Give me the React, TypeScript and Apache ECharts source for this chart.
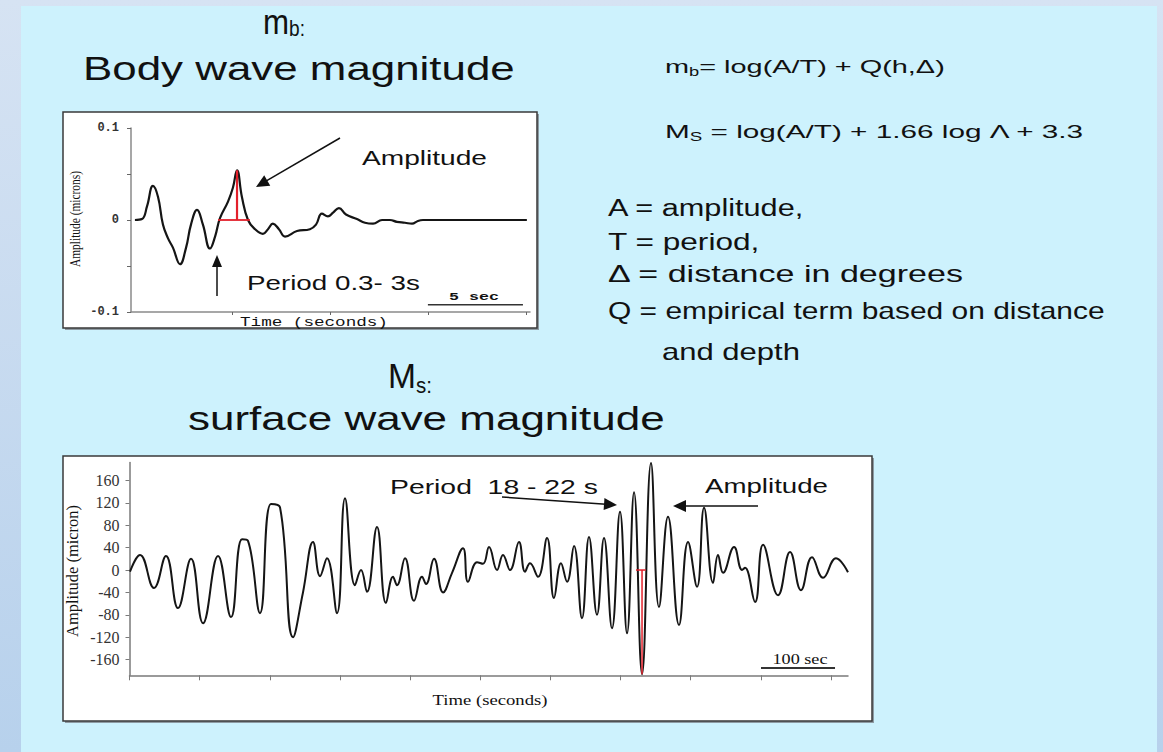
import React, { useEffect, useRef } from "react";
import * as echarts from "echarts";

// ---------- Body-wave (mb) trace: time in seconds, amplitude in microns ----------
const bodyTime = [0.20, 0.56, 0.82, 1.12, 1.38, 1.63, 1.89, 2.14, 2.50, 2.81, 3.06, 3.37, 3.67, 4.03, 4.29, 4.54, 4.95, 5.20, 5.41, 5.66, 5.97, 6.33, 6.73, 6.99, 7.24, 7.55, 7.86, 8.47, 9.13, 9.44, 9.74, 10.05, 10.31, 10.61, 10.97, 11.53, 11.94, 12.35, 12.81, 13.21, 13.57, 13.98, 14.34, 14.64, 14.90, 20.20];
const bodyAmp = [0, 0.001, 0.015, 0.037, 0.025, -0.005, -0.02, -0.03, -0.048, -0.03, -0.005, 0.011, -0.005, -0.031, -0.018, 0.002, 0.02, 0.035, 0.054, 0.025, 0, -0.01, -0.015, -0.01, -0.004, -0.01, -0.018, -0.012, -0.01, -0.005, 0.007, 0.004, 0.008, 0.013, 0.006, 0.001, -0.003, -0.004, 0, 0, -0.002, -0.003, -0.004, -0.001, 0, 0];
const bodyPeakTime = [5.41, 5.41];
const bodyPeakAmp = [0, 0.054];
const bodyBaseTime = [4.44, 6.07];
const bodyBaseAmp = [0, 0];
const bodyScaleTime = [15.15, 20.0];
const bodyScaleAmp = [-0.092, -0.092];
const bodyXTicks = [5.15, 10.15, 15.15, 20.15];

// ---------- Surface-wave (Ms) trace ----------
const surfTime = [0.7, 15, 34.9, 52.0, 69.1, 87.7, 104.8, 126.2, 144.7, 160.4, 168.9, 186.0, 201.7, 214.5, 233.1, 247.3, 261.6, 271.6, 281.5, 295.8, 307.2, 321.4, 330.0, 338.5, 352.8, 365.6, 375.6, 381.3, 392.7, 405.6, 417.0, 422.7, 434.1, 447.0, 459.8, 475.4, 482.5, 495.4, 503.9, 512.5, 523.9, 532.4, 542.4, 555.2, 563.8, 570.9, 582.3, 595.2, 605.1, 615.1, 623.7, 633.6, 645.0, 655.0, 666.4, 676.4, 687.8, 699.2, 709.2, 719.2, 730.6, 743.4, 754.8, 767.6, 783.3, 796.2, 809.0, 819.0, 831.8, 838.9, 846.1, 861.8, 873.2, 877.4, 891.7, 903.1, 924.5, 941.6, 957.2, 972.9, 988.6, 1007.1, 1024.2];
const surfAmp = [-3, 27, -32, 25, -68, 20, -95, 25, -84, 55, 52, -77, 118, 112, -120, -40, 50, -11, 21, -77, 128, -27, 0, -39, 77, -59, -12, -27, 21, -55, -12, -25, 20, -40, -5, 39, -21, 14, 11, 41, 0, 27, 0, 50, -3, 12, -12, 57, -50, 12, -21, 43, -86, 59, -80, 57, -104, 104, -113, 139, -186, 191, -66, 95, -98, 50, -30, 111, -23, 27, -5, 41, 0, 4, -57, 45, -45, 32, -36, 23, -14, 21, -4];
const surfPeakTime = [730.6, 730.6];
const surfPeakAmp = [0, -186];
const surfBaseTime = [722, 736];
const surfBaseAmp = [0, 0];
const surfScaleTime = [900.2, 1005.7];
const surfScaleAmp = [-175, -175];
const surfXTicks = [0, 100, 200, 300, 400, 500, 600, 700, 800, 900, 1000];
const surfYTicks = [-160, -120, -80, -40, 0, 40, 80, 120, 160];

// ---------- Texts ----------
const TXT_BODY_TITLE = "Body wave magnitude";
const TXT_SURF_TITLE = "surface wave magnitude";
const TXT_F1 = "= log(A/T) + Q(h,\u0394)";
const TXT_F2 = " = log(A/T) + 1.66 log \u039b + 3.3";
const TXT_DEF = ["A = amplitude,", "T = period,", "\u0394 = distance in degrees", "Q = empirical term based on distance", "and depth"];
const TXT_AMPL = "Amplitude";
const TXT_PERIOD_BODY = "Period 0.3- 3s";
const TXT_PERIOD_SURF = "Period  18 - 22 s";

const SANS = '"Liberation Sans", Arial, sans-serif';
const SERIF = '"Liberation Serif", "Times New Roman", serif';
const MONO = '"Liberation Mono", "Courier New", monospace';

let ctx: CanvasRenderingContext2D | null = null;
function measure(t: string, size: number, family: string) {
  if (!ctx) ctx = document.createElement("canvas").getContext("2d");
  ctx!.font = `${size}px ${family}`;
  return ctx!.measureText(t).width;
}

type Part = [string, boolean];
function label(
  x: number, y: number, parts: Part[], size: number, targetW: number,
  opt: { family?: string; align?: string; rotation?: number; fill?: string; weight?: string; lh?: number } = {}
) {
  const family = opt.family || SANS;
  const fill = opt.fill || "#111";
  const sub = Math.round(size * 0.62);
  let natural = 0;
  parts.forEach(([t, s]) => (natural += measure(t, s ? sub : size, family)));
  return {
    type: "text",
    x, y,
    rotation: opt.rotation || 0,
    scaleX: targetW / natural,
    z: 30,
    style: {
      text: parts.map(([t, s]) => `{${s ? "s" : "n"}|${t}}`).join(""),
      fill, fontFamily: family, fontSize: size, fontWeight: opt.weight || "normal",
      align: opt.align || "left", verticalAlign: "middle",
      rich: {
        n: { fontSize: size, fontFamily: family, fill, fontWeight: opt.weight || "normal", lineHeight: Math.round(size * (opt.lh || 1.2)) },
        s: { fontSize: sub, fontFamily: family, fill, lineHeight: sub, verticalAlign: "bottom" },
      },
    },
  };
}

function arrow(x1: number, y1: number, x2: number, y2: number, head = 13, half = 6) {
  const dx = x2 - x1, dy = y2 - y1;
  const len = Math.hypot(dx, dy);
  const ux = dx / len, uy = dy / len;
  const bx = x2 - ux * head, by = y2 - uy * head;
  const px = -uy, py = ux;
  return [
    { type: "line", z: 30, shape: { x1, y1, x2: bx + ux * 2, y2: by + uy * 2 }, style: { stroke: "#111", lineWidth: 1.5 } },
    { type: "polygon", z: 30, shape: { points: [[x2, y2], [bx + px * half, by + py * half], [bx - px * half, by - py * half]] }, style: { fill: "#111" } },
  ];
}

const zip = (a: number[], b: number[]) => a.map((v, i) => [v, b[i]]);

function buildOption() {
  const graphics: any[] = [
    {
      type: "rect", z: -20, shape: { x: 0, y: 0, width: 1163, height: 752 },
      style: { fill: new echarts.graphic.LinearGradient(0, 0, 0, 1, [{ offset: 0, color: "#d6e3f3" }, { offset: 1, color: "#b7d1ec" }]) },
    },
    { type: "rect", z: -19, shape: { x: 21, y: 6, width: 1136, height: 746 }, style: { fill: "#cdf2fd" } },
    // chart boxes with shadow
    { type: "rect", z: -18, shape: { x: 65, y: 114, width: 474, height: 216 }, style: { fill: "#8e9ba3" } },
    { type: "rect", z: -17, shape: { x: 63, y: 112, width: 474, height: 216 }, style: { fill: "#ffffff", stroke: "#3a3a3a", lineWidth: 1.5 } },
    { type: "rect", z: -18, shape: { x: 65, y: 458, width: 809, height: 265 }, style: { fill: "#8e9ba3" } },
    { type: "rect", z: -17, shape: { x: 63, y: 456, width: 809, height: 265 }, style: { fill: "#ffffff", stroke: "#3a3a3a", lineWidth: 1.5 } },

    // titles
    label(263, 21, [["m", false], ["b", true], [":", true]], 36, 42, { lh: 1.0 }),
    label(83, 68, [[TXT_BODY_TITLE, false]], 34, 432),
    label(388, 375, [["M", false], ["s", true], [":", true]], 36, 44),
    label(188, 418, [[TXT_SURF_TITLE, false]], 34, 477),

    // formulas
    label(665, 66, [["m", false], ["b", true], [TXT_F1, false]], 19, 280),
    label(665, 131, [["M", false], ["S", true], [TXT_F2, false]], 19, 420),
    label(608, 208, [[TXT_DEF[0], false]], 23, 197),
    label(608, 242, [[TXT_DEF[1], false]], 23, 152),
    label(608, 274, [[TXT_DEF[2], false]], 23, 357),
    label(608, 311, [[TXT_DEF[3], false]], 23, 497),
    label(662, 352, [[TXT_DEF[4], false]], 23, 138),

    // body chart annotations
    label(362, 158, [[TXT_AMPL, false]], 20, 125),
    label(247, 283, [[TXT_PERIOD_BODY, false]], 20, 173),
    ...arrow(340, 138, 256, 187),
    ...arrow(217, 296, 217, 255, 12, 5),
    label(474, 297, [["5 sec", false]], 11, 50, { family: MONO, align: "center", weight: "bold" }),
    label(314, 323, [["Time (seconds)", false]], 13, 148, { family: MONO, align: "center" }),
    label(76, 219, [["Amplitude (microns)", false]], 14, 96, { family: SERIF, align: "center", rotation: Math.PI / 2 }),

    // surface chart annotations
    label(390, 487, [[TXT_PERIOD_SURF, false]], 20, 208),
    label(705, 486, [[TXT_AMPL, false]], 20, 123),
    ...arrow(502, 497, 617, 505),
    ...arrow(758, 506, 673, 506),
    label(800, 660, [["100 sec", false]], 14, 55, { family: SERIF, align: "center" }),
    label(490, 700, [["Time (seconds)", false]], 15, 115, { family: SERIF, align: "center" }),
    label(73, 571, [["Amplitude (micron)", false]], 16, 132, { family: SERIF, align: "center", rotation: Math.PI / 2 }),
  ];

  const axisGray = "#8a8a8a";
  return {
    animation: false,
    graphic: { elements: graphics },
    grid: [
      { left: 131, top: 128, width: 399, height: 184 },
      { left: 129.5, top: 462.5, width: 718.5, height: 212.8 },
    ],
    xAxis: [
      {
        gridIndex: 0, type: "value", min: 0, max: 20.36,
        axisLine: { onZero: false, lineStyle: { color: axisGray, width: 1.5 } },
        axisTick: { show: true, customValues: bodyXTicks, length: 3, lineStyle: { color: "#666" } },
        axisLabel: { show: false }, splitLine: { show: false },
      },
      {
        gridIndex: 1, type: "value", min: 0, max: 1024.2,
        axisLine: { onZero: false, lineStyle: { color: "#7a7a7a", width: 1.5 } },
        axisTick: { show: true, customValues: surfXTicks, length: 5, lineStyle: { color: "#7a7a7a" } },
        axisLabel: { show: false }, splitLine: { show: false },
      },
    ],
    yAxis: [
      {
        gridIndex: 0, type: "value", min: -0.1, max: 0.1, interval: 0.05,
        axisLine: { show: true, onZero: false, lineStyle: { color: axisGray, width: 1.5 } },
        axisTick: { show: true, length: 4, lineStyle: { color: "#666" } },
        axisLabel: {
          margin: 12, fontFamily: MONO, fontSize: 12, fontWeight: "bold", color: "#333",
          formatter: (v: number) => (Math.abs(v) < 1e-9 ? "0" : Math.abs(v - 0.1) < 1e-9 ? "0.1" : Math.abs(v + 0.1) < 1e-9 ? "-0.1" : ""),
        },
        splitLine: { show: false },
      },
      {
        gridIndex: 1, type: "value", min: -188, max: 192,
        axisLine: { show: true, onZero: false, lineStyle: { color: "#7a7a7a", width: 1.5 } },
        axisTick: { show: true, customValues: surfYTicks, length: 4, lineStyle: { color: "#7a7a7a" } },
        axisLabel: { customValues: surfYTicks, margin: 10, fontFamily: SERIF, fontSize: 16, color: "#333" },
        splitLine: { show: false },
      },
    ],
    series: [
      {
        type: "line", xAxisIndex: 0, yAxisIndex: 0, data: zip(bodyTime, bodyAmp), showSymbol: false, smooth: 0.45,
        lineStyle: { color: "#151515", width: 2.2 }, z: 3, clip: false,
      },
      {
        type: "line", xAxisIndex: 0, yAxisIndex: 0, data: zip(bodyPeakTime, bodyPeakAmp), showSymbol: false,
        lineStyle: { color: "#e3202b", width: 2.2 }, z: 4,
      },
      {
        type: "line", xAxisIndex: 0, yAxisIndex: 0, data: zip(bodyBaseTime, bodyBaseAmp), showSymbol: false,
        lineStyle: { color: "#e3202b", width: 1.8 }, z: 4,
      },
      {
        type: "line", xAxisIndex: 0, yAxisIndex: 0, data: zip(bodyScaleTime, bodyScaleAmp), showSymbol: false,
        lineStyle: { color: "#333", width: 1.5 }, z: 4,
      },
      {
        type: "line", xAxisIndex: 1, yAxisIndex: 1, data: zip(surfTime, surfAmp), showSymbol: false, smooth: 0.45,
        lineStyle: { color: "#151515", width: 2 }, z: 3, clip: false,
      },
      {
        type: "line", xAxisIndex: 1, yAxisIndex: 1, data: zip(surfPeakTime, surfPeakAmp), showSymbol: false,
        lineStyle: { color: "#e3202b", width: 1.5 }, z: 4, clip: false,
      },
      {
        type: "line", xAxisIndex: 1, yAxisIndex: 1, data: zip(surfBaseTime, surfBaseAmp), showSymbol: false,
        lineStyle: { color: "#e3202b", width: 1.5 }, z: 4,
      },
      {
        type: "line", xAxisIndex: 1, yAxisIndex: 1, data: zip(surfScaleTime, surfScaleAmp), showSymbol: false,
        lineStyle: { color: "#333", width: 1.8 }, z: 4,
      },
    ],
  };
}

export default function App() {
  const ref = useRef<HTMLDivElement>(null);
  useEffect(() => {
    const chart = echarts.init(ref.current!, null, { renderer: "svg", width: 1163, height: 752 });
    chart.setOption(buildOption() as any);
    return () => chart.dispose();
  }, []);
  return <div ref={ref} style={{ position: "absolute", left: 0, top: 0, width: 1163, height: 752 }} />;
}
